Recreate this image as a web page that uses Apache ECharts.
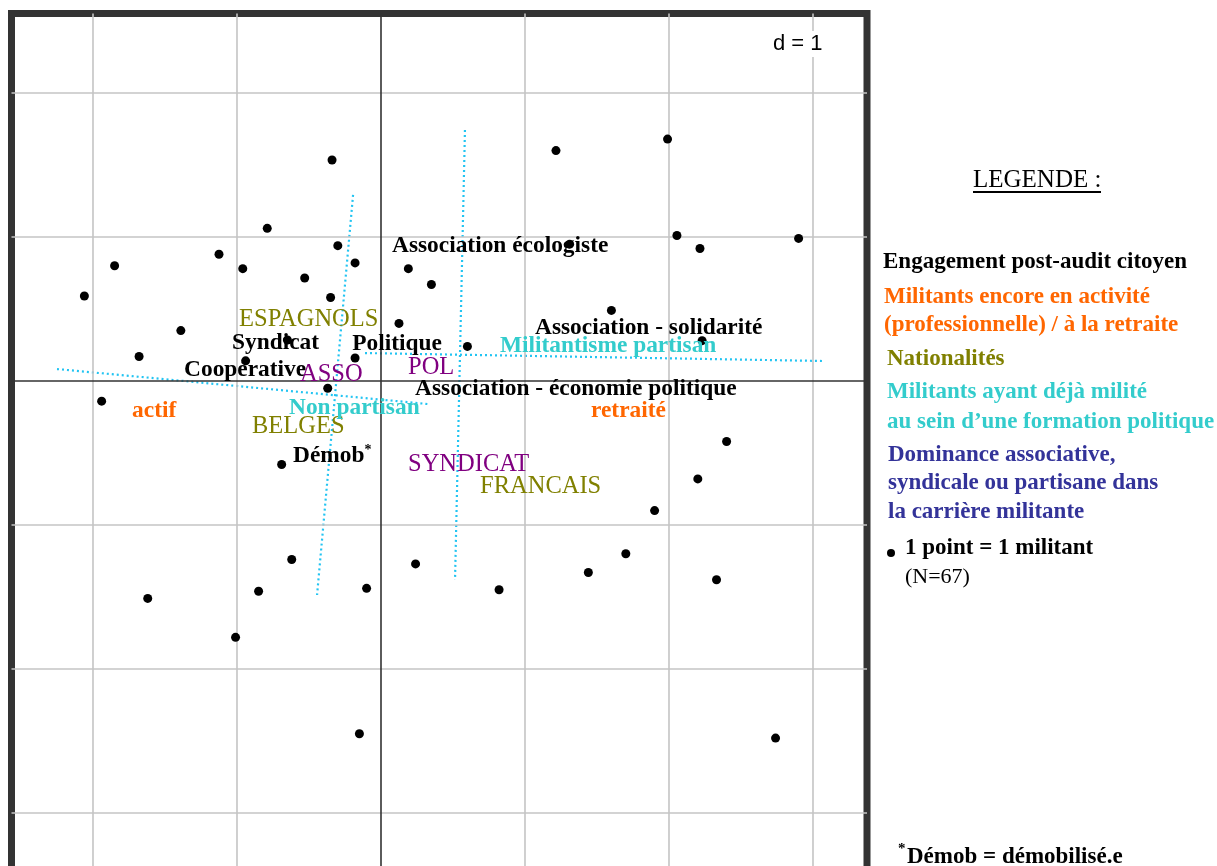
<!DOCTYPE html>
<html>
<head>
<meta charset="utf-8">
<script src="https://cdn.jsdelivr.net/npm/echarts@6/dist/echarts.min.js"></script>
<style>
html,body{margin:0;padding:0;background:#fff;overflow:hidden;}
#chart{width:1217px;height:900px;}
</style>
</head>
<body>
<div id="chart"></div>
<script>
// ---- axis extents (factor map, d = 1 grid) ----
const X_MIN = -2.566, X_MAX = 3.375;
const Y_MIN = -3.5, Y_MAX = 2.552;
const gridXTicks = [-2, -1, 1, 2, 3];
const gridYTicks = [2, 1, -1, -2, -3];

// ---- militants (1 point = 1 militant) ----
const militantX = [-0.34,-0.79,-0.30,-1.125,-1.85,-0.96,-0.18,-0.53,0.19,0.35,-2.06,-0.35,1.215,1.99,2.055,2.215,2.90,1.31,-1.39,0.125,-1.68,-0.65,-0.94,-0.18,-0.37,-1.94,-0.69,-0.62,0.24,1.60,0.60,2.23,2.40,2.20,1.90,1.70,1.44,2.33,-1.62,-0.85,-1.01,-0.10,-0.15,0.82,2.74];
const militantY = [1.535,1.06,0.94,0.88,0.80,0.78,0.82,0.715,0.78,0.67,0.59,0.58,1.60,1.68,1.01,0.92,0.99,0.95,0.35,0.40,0.17,0.285,0.14,0.16,-0.05,-0.14,-0.58,-1.24,-1.27,0.49,0.24,0.28,-0.42,-0.68,-0.90,-1.20,-1.33,-1.38,-1.51,-1.46,-1.78,-1.44,-2.45,-1.45,-2.48];

// ---- modalities (labels) ----
const modalityNames = ['Association écologiste','Syndicat','Politique','Coopérative','Association - solidarité','Association - économie politique','Démob','actif','retraité','ESPAGNOLS','BELGES','FRANCAIS','Militantisme partisan','Non partisan','ASSO','POL','SYNDICAT'];
const modalityX = [0.076,-1.035,-0.20,-1.368,1.069,0.236,-0.611,-1.729,1.458,-0.986,-0.896,0.6875,0.826,-0.639,-0.5625,0.1875,0.1875];
const modalityY = [0.94,0.264,0.257,0.076,0.368,-0.056,-0.521,-0.208,-0.208,0.424,-0.319,-0.736,0.243,-0.1875,0.042,0.090,-0.583];
const modalityGroup = ['engagement','engagement','engagement','engagement','engagement','engagement','engagement','activite','activite','nationalite','nationalite','nationalite','partisan','partisan','dominance','dominance','dominance'];
const starred = ['Démob'];

// ---- dotted axes of the supplementary variables ----
const dottedLineX = [[-0.111, 3.0625], [-2.25, 0.326], [-0.194, -0.444], [0.583, 0.514]];
const dottedLineY = [[0.194, 0.139], [0.083, -0.16], [1.292, -1.486], [1.743, -1.382]];

// ---- legend texts ----
const legendTitle = 'LEGENDE :';
const legendLines = [
  ['Engagement post-audit citoyen', 'engagement'],
  ['Militants encore en activité', 'activite'],
  ['(professionnelle) / à la retraite', 'activite'],
  ['Nationalités', 'nationalite'],
  ['Militants ayant déjà milité', 'partisan'],
  ['au sein d\u2019une formation politique', 'partisan'],
  ['Dominance associative,', 'legendDom'],
  ['syndicale ou partisane dans', 'legendDom'],
  ['la carrière militante', 'legendDom']
];
const pointNote = '1 point = 1 militant';
const nNote = '(N=67)';
const footNote = 'Démob = démobilisé.e';

// ---------------------------------------------------------------
const SERIF = '"Liberation Serif","Times New Roman",serif';
const groupStyle = {
  engagement: {color:'#000000', fontWeight:'bold', fontSize:23.4},
  activite:   {color:'#ff6600', fontWeight:'bold', fontSize:23.4},
  nationalite:{color:'#808000', fontWeight:'normal', fontSize:24.5},
  partisan:   {color:'#33cccc', fontWeight:'bold', fontSize:23.4},
  dominance:  {color:'#800080', fontWeight:'normal', fontSize:24.5},
  legendDom:  {color:'#333399', fontWeight:'bold', fontSize:23.4}
};

const chart = echarts.init(document.getElementById('chart'), null, {renderer:'canvas'});

const labelData = modalityNames.map((n, i) => {
  const g = groupStyle[modalityGroup[i]];
  const isStar = starred.indexOf(n) >= 0;
  return {
    value: [modalityX[i], modalityY[i]],
    name: n,
    label: {
      show: true,
      position: 'right',
      distance: 0,
      color: g.color,
      fontWeight: g.fontWeight,
      fontSize: g.fontSize,
      fontFamily: SERIF,
      formatter: isStar ? '{a|' + n + '}{s|*}' : n,
      rich: isStar ? {
        a: {color: g.color, fontWeight: g.fontWeight, fontSize: g.fontSize, fontFamily: SERIF},
        s: {color: g.color, fontSize: 14, fontFamily: SERIF, padding: [0, 0, 12, 0]}
      } : undefined
    }
  };
});

const series = [];
// grid lines
series.push({
  type: 'line', data: [], z: 1, silent: true,
  markLine: {
    silent: true, symbol: ['none','none'], animation: false,
    label: {show: false},
    lineStyle: {color: '#c4c4c4', width: 1.6, type: 'solid'},
    data: gridXTicks.map(v => ({xAxis: v})).concat(gridYTicks.map(v => ({yAxis: v})))
  }
});
// main axes
series.push({
  type: 'line', data: [], z: 2, silent: true,
  markLine: {
    silent: true, symbol: ['none','none'], animation: false,
    label: {show: false},
    lineStyle: {color: '#333333', width: 1.6, type: 'solid'},
    data: [{xAxis: 0}, {yAxis: 0}]
  }
});
// dotted lines
dottedLineX.forEach((xs, i) => {
  series.push({
    type: 'line', z: 3, silent: true, showSymbol: false, symbol: 'none',
    data: [[xs[0], dottedLineY[i][0]], [xs[1], dottedLineY[i][1]]],
    lineStyle: {color: '#22c4f2', width: 2.2, type: [2, 3]}
  });
});
// militants
series.push({
  type: 'scatter', z: 5, silent: true,
  symbol: 'circle', symbolSize: 9,
  itemStyle: {color: '#000', opacity: 1},
  data: militantX.map((x, i) => [x, militantY[i]])
});
// modality labels
series.push({
  type: 'scatter', z: 6, silent: true,
  symbol: 'circle', symbolSize: 0.1,
  itemStyle: {color: 'rgba(0,0,0,0)', opacity: 1},
  data: labelData
});

// legend graphics
const graphic = [];
graphic.push({type:'text', x: 773, y: 44, z: 100,
  style: {text: 'd = 1', font: '22px "Liberation Sans", Arial, sans-serif', fill: '#000', verticalAlign: 'middle', align: 'left', backgroundColor: '#fff', padding: [2, 0, 2, 0]}});
graphic.push({type:'text', x: 973, y: 180, z: 100,
  style: {text: legendTitle, font: '25px ' + SERIF, fill: '#000', verticalAlign: 'middle', align: 'left'}});
graphic.push({type:'line', z: 100, shape: {x1: 973, y1: 192, x2: 1101, y2: 192}, style: {stroke: '#000', lineWidth: 2}});
const legendYs = [262, 297, 325, 359, 392, 422, 455, 483, 512];
const legendXs = [883, 884, 884, 887, 887, 887, 888, 888, 888];
legendLines.forEach((l, i) => {
  const g = groupStyle[l[1]];
  graphic.push({type:'text', x: legendXs[i], y: legendYs[i], z: 100,
    style: {text: l[0], font: 'bold 23px ' + SERIF, fill: g.color, verticalAlign: 'middle', align: 'left'}});
});
graphic.push({type:'circle', z: 100, shape: {cx: 891, cy: 553, r: 4}, style: {fill: '#000'}});
graphic.push({type:'text', x: 905, y: 548, z: 100,
  style: {text: pointNote, font: 'bold 23px ' + SERIF, fill: '#000', verticalAlign: 'middle', align: 'left'}});
graphic.push({type:'text', x: 905, y: 577, z: 100,
  style: {text: nNote, font: '22px ' + SERIF, fill: '#000', verticalAlign: 'middle', align: 'left'}});
graphic.push({type:'text', x: 898, y: 849, z: 100,
  style: {text: '*', font: 'bold 15px ' + SERIF, fill: '#000', verticalAlign: 'middle', align: 'left'}});
graphic.push({type:'text', x: 907, y: 857, z: 100,
  style: {text: footNote, font: 'bold 23px ' + SERIF, fill: '#000', verticalAlign: 'middle', align: 'left'}});

chart.setOption({
  animation: false,
  backgroundColor: '#ffffff',
  grid: {left: 11.5, top: 13.5, width: 855.5, height: 871.5, show: true, borderColor: '#333333', borderWidth: 7, backgroundColor: 'transparent', containLabel: false},
  xAxis: {type: 'value', min: X_MIN, max: X_MAX, show: false, splitLine: {show: false}},
  yAxis: {type: 'value', min: Y_MIN, max: Y_MAX, show: false, splitLine: {show: false}},
  series: series,
  graphic: graphic
});
</script>
</body>
</html>
